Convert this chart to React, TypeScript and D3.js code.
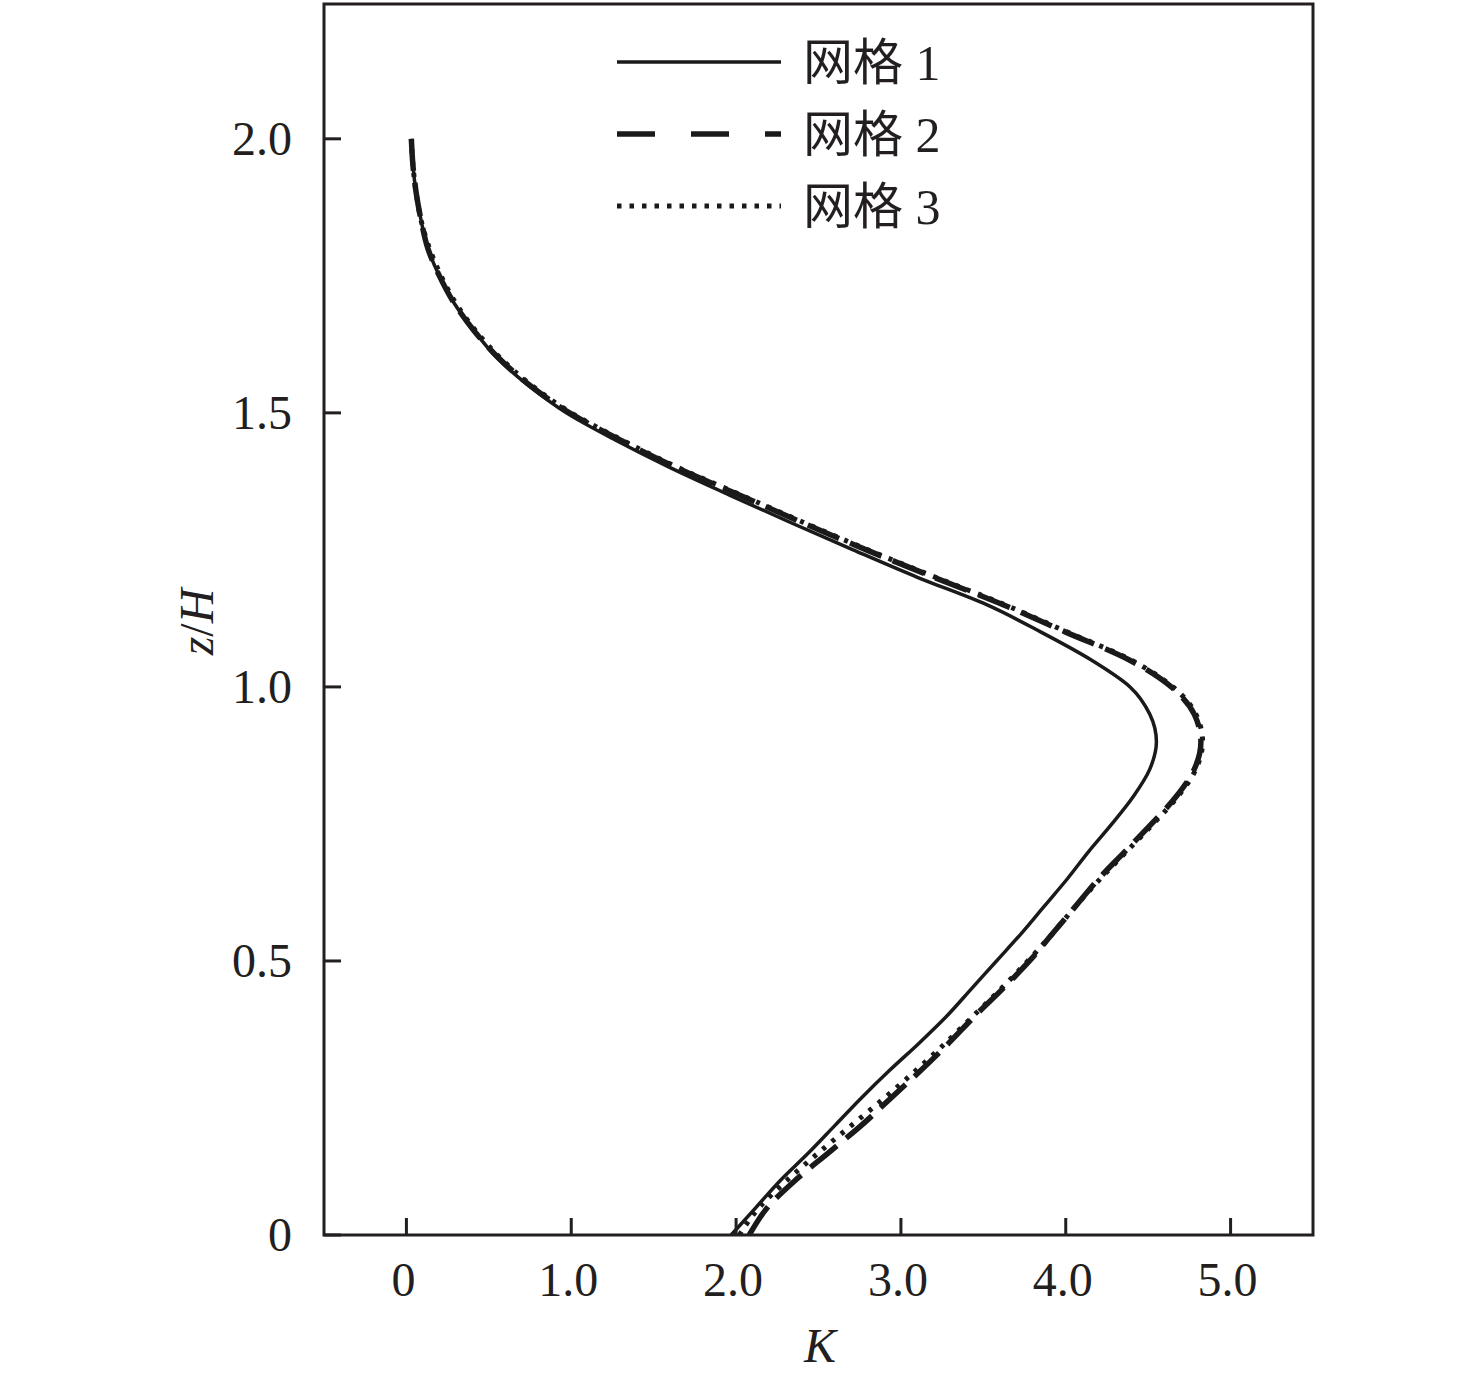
import * as d3 from 'd3'

// z/H 采样高度
const zLevels = [0, 0.05, 0.1, 0.15, 0.2, 0.25, 0.3, 0.35, 0.4, 0.45, 0.5, 0.55, 0.6, 0.65, 0.7, 0.75, 0.8, 0.85, 0.9, 0.95, 1.0, 1.05, 1.1, 1.15, 1.2, 1.25, 1.3, 1.35, 1.4, 1.45, 1.5, 1.55, 1.6, 1.65, 1.7, 1.75, 1.8, 1.85, 1.9, 1.95, 2.0]

// 网格 1 (实线)
const grid1K = [1.97, 2.12, 2.27, 2.44, 2.60, 2.76, 2.93, 3.11, 3.28, 3.43, 3.58, 3.73, 3.87, 4.01, 4.14, 4.28, 4.41, 4.51, 4.55, 4.51, 4.39, 4.15, 3.85, 3.52, 3.10, 2.71, 2.33, 1.96, 1.60, 1.27, 0.97, 0.74, 0.55, 0.41, 0.29, 0.20, 0.13, 0.09, 0.06, 0.04, 0.03]
// 网格 2 (虚线)
const grid2K = [2.08, 2.19, 2.36, 2.56, 2.76, 2.94, 3.12, 3.29, 3.45, 3.62, 3.78, 3.92, 4.06, 4.20, 4.36, 4.52, 4.67, 4.78, 4.82, 4.78, 4.64, 4.38, 4.00, 3.62, 3.20, 2.79, 2.40, 2.02, 1.64, 1.30, 0.99, 0.75, 0.56, 0.41, 0.29, 0.20, 0.13, 0.09, 0.06, 0.04, 0.03]
// 网格 3 (点线)
const grid3K = [2.02, 2.14, 2.31, 2.50, 2.70, 2.90, 3.09, 3.27, 3.44, 3.61, 3.77, 3.92, 4.06, 4.21, 4.37, 4.53, 4.68, 4.79, 4.83, 4.79, 4.65, 4.39, 4.01, 3.63, 3.21, 2.80, 2.41, 2.03, 1.65, 1.31, 1.00, 0.76, 0.57, 0.42, 0.30, 0.21, 0.14, 0.09, 0.06, 0.04, 0.03]

const seriesNames = ['网格 1', '网格 2', '网格 3']
const xTicks = [0, 1, 2, 3, 4, 5]
const yTicks = [0, 0.5, 1.0, 1.5, 2.0]

const W = 1476, H = 1383
const plot = { left: 324, right: 1313, top: 4, bottom: 1235 }

const styles = [
  { width: 3.5, dash: null as string | null, legendDash: null as string | null },
  { width: 5.5, dash: '34,12', legendDash: '38,36' },
  { width: 5, dash: '4,8', legendDash: '4.5,8' },
]

export default function App() {
  const x = d3.scaleLinear().domain([-0.5, 5.5]).range([plot.left, plot.right])
  const y = d3.scaleLinear().domain([0, 2.246]).range([plot.bottom, plot.top])

  const line = d3.line<[number, number]>()
    .x(d => x(d[0])).y(d => y(d[1]))
    .curve(d3.curveMonotoneY)

  const allK = [grid1K, grid2K, grid3K]
  const font = '"Times New Roman", "Liberation Serif", "Noto Sans CJK SC", serif'
  const tickLen = 17

  // 先画点线和虚线，再画实线
  const order = [2, 1, 0]

  return (
    <svg width={W} height={H} style={{ position: 'absolute', left: 0, top: 0, background: '#fff' }}
      fontFamily={font}>
      <rect x={0} y={0} width={W} height={H} fill="#fff" />

      {order.map(i => {
        const pts = zLevels.map((z, j) => [allK[i][j], z] as [number, number])
        return (
          <path key={i} d={line(pts) ?? ''} fill="none" stroke="#1a1a1a"
            strokeWidth={styles[i].width}
            strokeDasharray={styles[i].dash ?? undefined} />
        )
      })}

      {/* 坐标框 */}
      <rect x={plot.left} y={plot.top} width={plot.right - plot.left} height={plot.bottom - plot.top}
        fill="none" stroke="#231f20" strokeWidth={3} />

      {/* X 轴刻度 */}
      {xTicks.map(t => (
        <g key={'x' + t}>
          <line x1={x(t)} x2={x(t)} y1={plot.bottom} y2={plot.bottom - tickLen} stroke="#231f20" strokeWidth={3} />
          <text x={x(t) - 3} y={1296} textAnchor="middle" fontSize={48} fill="#231f20">
            {t === 0 ? '0' : t.toFixed(1)}
          </text>
        </g>
      ))}

      {/* Y 轴刻度 */}
      {yTicks.map(t => (
        <g key={'y' + t}>
          <line x1={plot.left} x2={plot.left + tickLen} y1={y(t)} y2={y(t)} stroke="#231f20" strokeWidth={3} />
          <text x={292} y={y(t) + 16} textAnchor="end" fontSize={48} fill="#231f20">
            {t === 0 ? '0' : t.toFixed(1)}
          </text>
        </g>
      ))}

      {/* 轴标题 */}
      <text x={820} y={1362} textAnchor="middle" fontSize={48} fontStyle="italic" fill="#231f20">K</text>
      <text transform="translate(213,622) rotate(-90)" textAnchor="middle" fontSize={48} fill="#231f20">
        <tspan fontStyle="italic">z</tspan>/<tspan fontStyle="italic">H</tspan>
      </text>

      {/* 图例 */}
      {seriesNames.map((name, i) => {
        const ly = 62 + i * 72
        return (
          <g key={name}>
            <line x1={617} x2={781} y1={ly} y2={ly} stroke="#1a1a1a"
              strokeWidth={styles[i].width}
              strokeDasharray={styles[i].legendDash ?? undefined} />
            <text x={803} y={ly + 18} fontSize={50} fill="#231f20">{name}</text>
          </g>
        )
      })}
    </svg>
  )
}
